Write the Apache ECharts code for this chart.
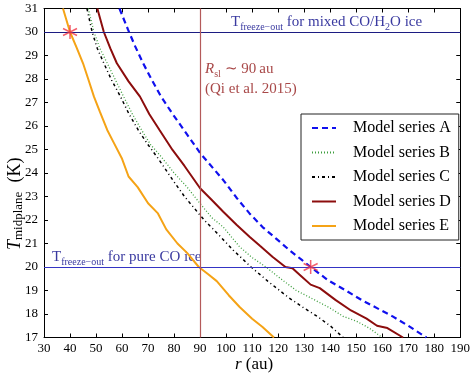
<!DOCTYPE html>
<html>
<head>
<meta charset="utf-8">
<script src="https://cdn.jsdelivr.net/npm/echarts@6/dist/echarts.min.js"></script>
<style>
  html, body { margin: 0; padding: 0; background: #fff; }
  #chart { width: 473px; height: 376px; }
</style>
</head>
<body>
<div id="chart"></div>
<script>
// data: [r (au), T (K)]
const seriesA = [[59,31],[62.3,30.1],[65,29.4],[68.1,28.67],[71.5,27.95],[75,27.25],[79.5,26.5],[83.8,25.83],[90,24.85],[98.9,23.7],[104,22.95],[109,22.28],[114,21.7],[119.1,21.22],[124,20.75],[129.1,20.3],[132.5,20.0],[139,19.45],[146,19.0],[152,18.6],[158,18.25],[164,17.9],[170,17.5],[177,17.0]];
const seriesB = [[47,31],[49.2,30],[51.5,29.3],[54.3,28.67],[57.5,27.95],[60.6,27.25],[64,26.5],[67.5,25.83],[71,25.2],[75,24.7],[80,24.0],[85,23.4],[90,22.7],[94.5,22.1],[98.9,21.7],[105.2,20.86],[110,20.4],[115.3,20.0],[121,19.5],[127,19.0],[134,18.6],[140,18.25],[145,17.9],[150,17.7],[155,17.4],[160,17.0]];
const seriesC = [[46.5,31],[48.5,30],[50.5,29.3],[53,28.67],[56,27.95],[59.4,27.25],[62.5,26.55],[66.2,25.83],[70,25.2],[73.8,24.63],[79.5,23.7],[84,23.0],[88.9,22.35],[92,21.95],[96,21.5],[102.7,20.72],[109.6,20.0],[116,19.4],[124,18.7],[130,18.25],[135,17.9],[140,17.5],[145,17.0]];
const seriesD = [[50.5,31],[53,30],[55.5,29.3],[58,28.67],[62.5,27.9],[66.9,27.25],[70.5,26.5],[74.4,25.83],[79.4,24.98],[84,24.3],[90,23.35],[94.5,22.85],[98.9,22.35],[104,21.8],[109,21.29],[113,20.9],[117.8,20.44],[122.8,20.0],[125.5,19.95],[129,19.6],[132.5,19.25],[136,19.1],[142,18.6],[148,18.15],[154,17.8],[158,17.5],[162,17.4],[168,17.0]];
const seriesE = [[37.3,31],[40,30],[42.5,29.35],[45,28.67],[47,28.0],[49.2,27.25],[51.5,26.6],[54.3,25.83],[57,25.25],[59.9,24.63],[62.5,23.85],[66,23.4],[70,22.71],[73.8,22.28],[77,21.6],[81.3,21.0],[85,20.6],[89.5,20.0],[93,19.7],[96.4,19.4],[101,18.8],[105.2,18.3],[110,17.8],[114,17.45],[118.4,17.0]];
const starPoints = [[40,30],[132.5,20]];
const names = ['Model series A','Model series B','Model series C','Model series D','Model series E'];
const freezeMixed = 30;
const freezePure = 20;
const rSnowline = 90;

const FONT = 'Liberation Serif';
const chart = echarts.init(document.getElementById('chart'), null, { renderer: 'canvas' });

const axisCommon = {
  axisLine: { show: true, lineStyle: { color: '#000', width: 1 } },
  axisTick: { show: true, inside: true, length: 4, lineStyle: { color: '#000' } },
  splitLine: { show: false },
};

const lineSeries = (name, data, color, width, type) => ({
  name, type: 'line', data,
  symbol: 'none', showSymbol: false,
  lineStyle: { color, width, type },
  itemStyle: { color },
  animation: false,
});

const sub = (color, size, pad) => ({ fontFamily: FONT, fontSize: size, fill: color, lineHeight: 20, verticalAlign: 'bottom', padding: [pad, 0, 0, 0] });
const txt = (color, size, italic) => ({ fontFamily: FONT, fontSize: size, fill: color, lineHeight: 20, fontStyle: italic ? 'italic' : 'normal' });

const option = {
  animation: false,
  grid: { left: 44, right: 5, top: 8.5, bottom: 38.5 },
  xAxis: [
    Object.assign({ type: 'value', min: 30, max: 190, interval: 10, position: 'bottom',
      axisLabel: { color: '#000', fontFamily: FONT, fontSize: 13, margin: 5 } }, axisCommon),
    Object.assign({ type: 'value', min: 30, max: 190, interval: 10, position: 'top',
      axisLabel: { show: false } }, axisCommon),
  ],
  yAxis: [
    Object.assign({ type: 'value', min: 17, max: 31, interval: 1, position: 'left',
      axisLabel: { color: '#000', fontFamily: FONT, fontSize: 13, margin: 6 } }, axisCommon),
    Object.assign({ type: 'value', min: 17, max: 31, interval: 1, position: 'right',
      axisLabel: { show: false } }, axisCommon),
  ],
  legend: {
    data: names,
    orient: 'vertical',
    left: 301, top: 114,
    padding: [6, 8, 6, 10],
    itemWidth: 24, itemHeight: 14, itemGap: 8.5,
    backgroundColor: '#fff',
    borderColor: '#222', borderWidth: 1, borderRadius: 0,
    itemStyle: { opacity: 0 },
    textStyle: { fontFamily: FONT, fontSize: 16, color: '#000', padding: [0, 0, 0, 12] },
  },
  series: [
    lineSeries(names[0], seriesA, '#1010ee', 2.2, [6, 4]),
    lineSeries(names[1], seriesB, '#3e9e3e', 1.3, [1, 2]),
    lineSeries(names[2], seriesC, '#000', 1.5, [3, 3, 1, 3]),
    lineSeries(names[3], seriesD, '#8c0d0d', 2, 'solid'),
    Object.assign(lineSeries(names[4], seriesE, '#f5a316', 2, 'solid'), {
      markLine: {
        silent: true, symbol: 'none', label: { show: false },
        data: [
          { yAxis: freezeMixed, lineStyle: { color: '#1c1c82', width: 1.2, type: 'solid' } },
          { yAxis: freezePure, lineStyle: { color: '#3434c4', width: 1.2, type: 'solid' } },
          { xAxis: rSnowline, lineStyle: { color: '#b45a5a', width: 1.2, type: 'solid' } },
        ],
      },
    }),
    {
      name: 'stars', type: 'scatter', data: starPoints,
      symbol: 'path://M0,-10L0,10M-8.66,-5L8.66,5M-8.66,5L8.66,-5',
      symbolSize: 14,
      itemStyle: { color: 'none', borderColor: '#f03a4a', borderWidth: 1.5 },
      z: 5,
    },
  ],
  graphic: [
    {
      type: 'text', left: 231, top: 15,
      style: {
        text: '{t|T}{s|freeze\u2212out}{n| for mixed CO/H}{s|2}{n|O ice}',
        rich: { t: txt('#3a3aa0', 15), n: txt('#3a3aa0', 15), s: sub('#3a3aa0', 10, 7) },
      },
    },
    {
      type: 'text', left: 52, top: 250,
      style: {
        text: '{t|T}{s|freeze\u2212out}{n| for pure CO ice}',
        rich: { t: txt('#3a3aa0', 15), n: txt('#3a3aa0', 15), s: sub('#3a3aa0', 10, 7) },
      },
    },
    {
      type: 'text', left: 205, top: 62,
      style: {
        text: '{i|R}{s|sl}{n| \u223c 90\u2009au}\n{n|(Qi et al. 2015)}',
        rich: { i: txt('#a84848', 15, true), n: txt('#a84848', 15), s: sub('#a84848', 10, 6) },
      },
    },
    {
      type: 'text', x: 5, y: 250, rotation: Math.PI / 2,
      style: {
        text: '{i|T}{s|midplane}{n|\u2002(K)}',
        rich: { i: txt('#000', 18, true), n: txt('#000', 18), s: sub('#000', 13, 8) },
      },
    },
    {
      type: 'text', left: 235, top: 356,
      style: {
        text: '{i|r}{n| (au)}',
        rich: { i: txt('#000', 17, true), n: txt('#000', 17) },
      },
    },
  ],
};

chart.setOption(option);
</script>
</body>
</html>
